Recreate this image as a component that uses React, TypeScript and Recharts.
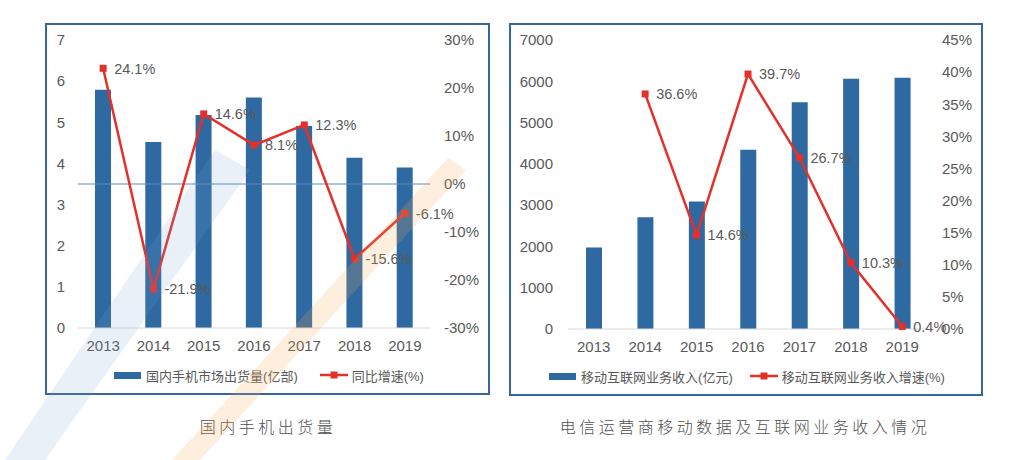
import React from "react";
import {
  ComposedChart,
  Bar,
  Line,
  XAxis,
  YAxis,
  Legend,
  ReferenceLine,
  LabelList,
} from "recharts";

const years = ["2013", "2014", "2015", "2016", "2017", "2018", "2019"];

// left chart: domestic phone shipments
const phoneShipments = [5.79, 4.52, 5.18, 5.6, 4.91, 4.14, 3.9];
const phoneGrowth = [24.1, -21.9, 14.6, 8.1, 12.3, -15.6, -6.1];
const phoneTicks = [0, 1, 2, 3, 4, 5, 6, 7];
const phoneGrowthTicks = [-30, -20, -10, 0, 10, 20, 30];

// right chart: mobile internet revenue
const mobileRevenue = [1976, 2706, 3087, 4343, 5493, 6060, 6084];
const mobileGrowth = [null, 36.6, 14.6, 39.7, 26.7, 10.3, 0.4];
const revenueTicks = [0, 1000, 2000, 3000, 4000, 5000, 6000, 7000];
const revenueGrowthTicks = [0, 5, 10, 15, 20, 25, 30, 35, 40, 45];

const phoneData = years.map((year, i) => ({
  year,
  shipments: phoneShipments[i],
  growth: phoneGrowth[i],
}));

const mobileData = years.map((year, i) => ({
  year,
  revenue: mobileRevenue[i],
  growth: mobileGrowth[i],
}));

const FONT = '"Liberation Sans", Arial, "Noto Sans CJK SC", sans-serif';
const BAR = "#2e69a1";
const RED = "#e5302a";
const TEXT = "#595959";

const SquareDot = (props: any) => {
  const { cx, cy } = props;
  if (cx == null || cy == null) return null;
  return <rect x={cx - 3.5} y={cy - 3.5} width={7} height={7} fill={RED} />;
};

const renderPct = (props: any) => {
  const { x, y, value } = props;
  if (value == null) return null;
  return (
    <text
      x={x + 11}
      y={y}
      dy="0.36em"
      fontSize={14.5}
      fill={TEXT}
      fontFamily={FONT}
    >
      {value}%
    </text>
  );
};

function LegendRow({ barName, lineName, gap }: { barName: string; lineName: string; gap: number }) {
  return (
    <div
      style={{
        display: "flex",
        justifyContent: "center",
        alignItems: "center",
        height: 30,
        boxSizing: "border-box",
        paddingBottom: 8,
        fontSize: 13,
        color: TEXT,
        fontFamily: FONT,
        whiteSpace: "nowrap",
      }}
    >
      <span style={{ display: "inline-block", width: 27, height: 7, background: BAR, marginRight: 5 }} />
      <span>{barName}</span>
      <svg width={28} height={8} style={{ marginLeft: gap, marginRight: 4 }}>
        <line x1={0} y1={4} x2={28} y2={4} stroke={RED} strokeWidth={2.5} />
        <rect x={10.5} y={0.5} width={7} height={7} fill={RED} />
      </svg>
      <span>{lineName}</span>
    </div>
  );
}

const tickStyle = { fontSize: 15, fill: TEXT, fontFamily: FONT };

function PhoneChart() {
  return (
    <ComposedChart
      width={444}
      height={370}
      data={phoneData}
      margin={{ top: 16, right: 0, bottom: 0, left: 2 }}
    >
      <XAxis
        dataKey="year"
        tick={tickStyle}
        tickLine={false}
        axisLine={{ stroke: "#d9d9d9" }}
        tickSize={0}
        tickMargin={12}
        height={36}
      />
      <YAxis
        yAxisId="left"
        domain={[0, 7]}
        ticks={phoneTicks}
        tick={tickStyle}
        axisLine={false}
        tickLine={false}
        tickSize={0}
        tickMargin={13}
        width={30}
      />
      <YAxis
        yAxisId="right"
        orientation="right"
        domain={[-30, 30]}
        ticks={phoneGrowthTicks}
        tickFormatter={(v) => `${v}%`}
        tick={tickStyle}
        axisLine={false}
        tickLine={false}
        tickSize={0}
        tickMargin={14}
        width={60}
      />
      <Legend
        verticalAlign="bottom"
        height={30}
        content={() => <LegendRow barName="国内手机市场出货量(亿部)" lineName="同比增速(%)" gap={22} />}
      />
      <Bar yAxisId="left" dataKey="shipments" fill={BAR} barSize={16} isAnimationActive={false} />
      <ReferenceLine yAxisId="right" y={0} stroke="#5a8bc2" strokeWidth={1} />
      <Line
        yAxisId="right"
        dataKey="growth"
        stroke={RED}
        strokeWidth={2.5}
        dot={<SquareDot />}
        activeDot={false}
        isAnimationActive={false}
      >
        <LabelList dataKey="growth" content={renderPct} />
      </Line>
    </ComposedChart>
  );
}

function MobileChart() {
  return (
    <ComposedChart
      width={472}
      height={371}
      data={mobileData}
      margin={{ top: 16, right: 0, bottom: 0, left: 2 }}
    >
      <XAxis
        dataKey="year"
        tick={tickStyle}
        tickLine={false}
        axisLine={{ stroke: "#d9d9d9" }}
        tickSize={0}
        tickMargin={12}
        height={36}
      />
      <YAxis
        yAxisId="left"
        domain={[0, 7000]}
        ticks={revenueTicks}
        tick={tickStyle}
        axisLine={false}
        tickLine={false}
        tickSize={0}
        tickMargin={15}
        width={56}
      />
      <YAxis
        yAxisId="right"
        orientation="right"
        domain={[0, 45]}
        ticks={revenueGrowthTicks}
        tickFormatter={(v) => `${v}%`}
        tick={tickStyle}
        axisLine={false}
        tickLine={false}
        tickSize={0}
        tickMargin={14}
        width={54}
      />
      <Legend
        verticalAlign="bottom"
        height={30}
        content={() => (
          <LegendRow barName="移动互联网业务收入(亿元)" lineName="移动互联网业务收入增速(%)" gap={17} />
        )}
      />
      <Bar yAxisId="left" dataKey="revenue" fill={BAR} barSize={16} isAnimationActive={false} />
      <Line
        yAxisId="right"
        dataKey="growth"
        stroke={RED}
        strokeWidth={2.5}
        dot={<SquareDot />}
        activeDot={false}
        isAnimationActive={false}
      >
        <LabelList dataKey="growth" content={renderPct} />
      </Line>
    </ComposedChart>
  );
}

const boxStyle: React.CSSProperties = {
  position: "absolute",
  border: "2px solid #3566a2",
  boxSizing: "border-box",
  background: "#fff",
};

const titleStyle: React.CSSProperties = {
  position: "absolute",
  top: 414,
  textAlign: "center",
  fontSize: 16,
  letterSpacing: 3.5,
  color: "#505050",
  fontFamily: '"Noto Sans CJK SC", sans-serif',
  fontWeight: 300,
  whiteSpace: "nowrap",
};

// faint background watermark bands laid over the page
function Watermark() {
  return (
    <svg
      width={1016}
      height={460}
      style={{ position: "absolute", left: 0, top: 0, pointerEvents: "none" }}
    >
      <polygon points="215,150 250,170 45,460 5,460" fill="rgb(120,160,210)" fillOpacity={0.16} />
      <polygon points="448,158 466,170 200,460 172,460" fill="rgb(245,170,90)" fillOpacity={0.2} />
    </svg>
  );
}

export default function App() {
  return (
    <div
      style={{
        position: "absolute",
        left: 0,
        top: 0,
        width: 1016,
        height: 460,
        background: "#fff",
        overflow: "hidden",
      }}
    >
      <div style={{ ...boxStyle, left: 45, top: 23, width: 445, height: 372 }}>
        <div style={{ position: "absolute", left: -1, top: -1 }}>
          <PhoneChart />
        </div>
      </div>
      <div style={{ ...boxStyle, left: 509, top: 23, width: 474, height: 373 }}>
        <div style={{ position: "absolute", left: -1, top: -1 }}>
          <MobileChart />
        </div>
      </div>
      <div style={{ ...titleStyle, left: 168, width: 200 }}>国内手机出货量</div>
      <div style={{ ...titleStyle, left: 540, width: 410 }}>电信运营商移动数据及互联网业务收入情况</div>
      <Watermark />
    </div>
  );
}
